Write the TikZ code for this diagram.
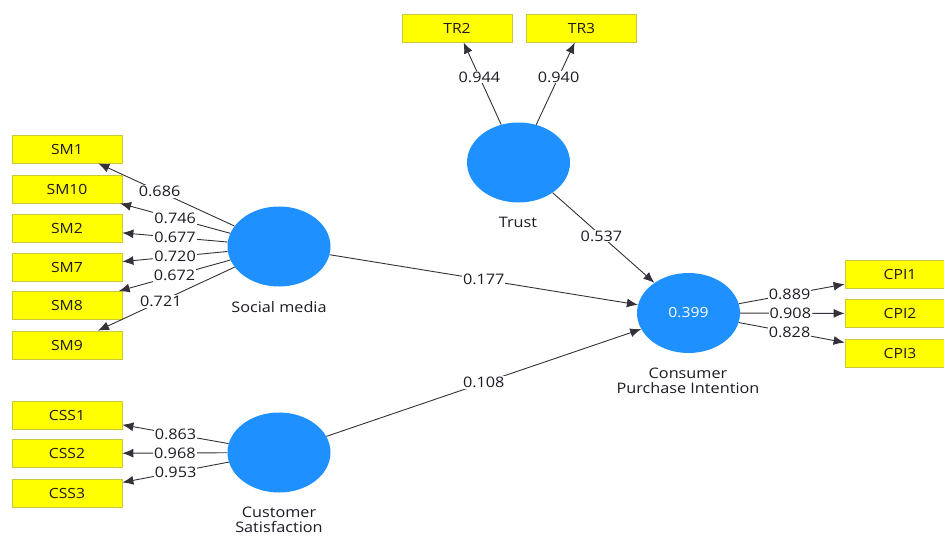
\documentclass[tikz,border=0pt]{standalone}
\usepackage{fontspec}
\setmainfont[FakeStretch=1.12]{Open Sans}
\usetikzlibrary{shapes.geometric,arrows.meta}

\definecolor{indfill}{RGB}{255,255,0}
\definecolor{indline}{RGB}{200,200,60}
\definecolor{lvfill}{RGB}{30,144,255}
\definecolor{ink}{RGB}{30,25,35}

\tikzset{
  indicator/.style={draw=indline, fill=indfill, line width=0.8pt,
    minimum width=110pt, minimum height=28pt, inner sep=0pt,
    font=\fontsize{14}{16}\selectfont, text=ink},
  latent/.style={ellipse, fill=lvfill, minimum width=103pt,
    minimum height=80pt, inner sep=0pt, text=white,
    font=\fontsize{14}{16}\selectfont},
  caption/.style={align=center, text=ink,
    font=\fontsize{14.5}{16}\selectfont},
  link/.style={draw=ink!90, line width=0.9pt,
    -{Latex[length=11pt,width=9pt]}},
  coef/.style={fill=white, inner sep=1pt, text=ink,
    font=\fontsize{14.5}{16}\selectfont}
}

\begin{document}
\begin{tikzpicture}[x=1pt, y=-1pt]
\useasboundingbox (0, 0) rectangle (944, 535);

\node [latent] (sm) at (279, 246.5) {};
\node [latent] (css) at (279, 452.5) {};
\node [latent] (tr) at (518.5, 162.5) {};
\node [latent] (cpi) at (688.5, 313) {0.399};

\node [caption] (sm-cap) at (279, 307) {Social media};
\node [caption] (css-cap) at (279, 520) {Customer\\[-1pt]Satisfaction};
\node [caption] (tr-cap) at (518, 222) {Trust};
\node [caption] (cpi-cap) at (688, 381) {Consumer\\[-1pt]Purchase Intention};

\foreach \name/\y/\val/\p in {
	1/149/0.686/.55,
	10/189/0.746/.5,
	2/228/0.677/.5,
	7/267/0.720/.5,
	8/305.5/0.672/.5,
	9/345/0.721/.54
	} {
	\node [indicator] (sm\name) at (67, \y) {SM\name};
	\draw [link] (sm) -- (sm\name) node [coef, pos=\p] (sm\name-w) {\val};
}

\foreach \name/\y/\val in {
	1/415/0.863,
	2/453.5/0.968,
	3/493/0.953
	} {
	\node [indicator] (css\name) at (67, \y) {CSS\name};
	\draw [link] (css) -- (css\name) node [coef, pos=.5] (css\name-w) {\val};
}

\foreach \name/\x/\val in {
	2/457/0.944,
	3/581.5/0.940
	} {
	\node [indicator] (tr\name) at (\x, 28) {TR\name};
	\draw [link] (tr) -- (tr\name) node [coef, pos=.58] (tr\name-w) {\val};
}

\foreach \name/\y/\val in {
	1/274/0.889,
	2/313.5/0.908,
	3/353/0.828
	} {
	\node [indicator] (cpi\name) at (900, \y) {CPI\name};
	\draw [link] (cpi) -- (cpi\name) node [coef, pos=.48] (cpi\name-w) {\val};
}

\draw [link] (sm) -- (cpi) node [coef, pos=.5] (sm-cpi) {0.177};
\draw [link] (css) -- (cpi) node [coef, pos=.5] (css-cpi) {0.108};
\draw [link] (tr) -- (cpi) node [coef, pos=.48] (tr-cpi) {0.537};
\end{tikzpicture}
\end{document}
